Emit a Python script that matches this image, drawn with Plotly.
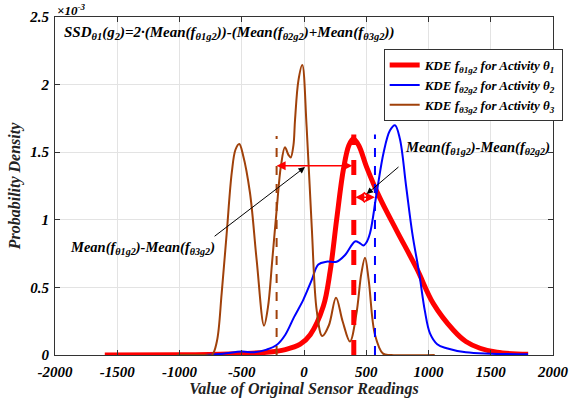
import plotly.graph_objects as go

# Values in units of 1e-3 (axis shows x10^-3)
red_x = [-1600, -1000, -600, -300, -150, -30, 50, 155, 210, 262, 316, 360, 396, 440, 503, 610, 744, 905, 1039, 1199, 1300, 1414, 1550, 1800]
red_y = [0.0, 0.002, 0.008, 0.02, 0.04, 0.08, 0.15, 0.36, 0.62, 1.0, 1.37, 1.55, 1.60, 1.55, 1.39, 1.16, 0.92, 0.64, 0.38, 0.185, 0.10, 0.05, 0.02, 0.005]

blue_x = [-800, -650, -500, -400, -300, -220, -150, -80, -5, 60, 115, 180, 262, 330, 410, 445, 477, 500, 530, 584, 640, 690, 731, 770, 820, 870, 926, 970, 1012, 1070, 1146, 1300, 1500, 1800]
blue_y = [0.0, 0.01, 0.025, 0.02, 0.04, 0.074, 0.15, 0.28, 0.41, 0.55, 0.67, 0.69, 0.69, 0.74, 0.84, 0.83, 0.81, 0.83, 0.9, 1.2, 1.5, 1.66, 1.70, 1.6, 1.25, 0.9, 0.6, 0.33, 0.16, 0.08, 0.05, 0.02, 0.01, 0.005]

brown_x = [-1020, -800, -740, -700, -661, -621, -580, -550, -520, -490, -434, -380, -321, -290, -255, -220, -185, -153, -125, -107, -85, -72, -45, -14, 21, 62, 102, 147, 200, 257, 310, 369, 420, 460, 490, 520, 570, 635, 700, 1050]
brown_y = [0.0, 0.0, 0.0, 0.1, 0.46, 0.9, 1.35, 1.52, 1.56, 1.48, 1.2, 0.7, 0.217, 0.35, 0.7, 1.07, 1.4, 1.536, 1.48, 1.46, 1.55, 1.74, 2.03, 2.145, 1.69, 0.95, 0.33, 0.14, 0.22, 0.424, 0.25, 0.1, 0.3, 0.6, 0.72, 0.55, 0.15, 0.01, 0.0, 0.0]

mean_x = [400, 570, -220]     # theta1, theta2, theta3 means
mean_top = [1.63, 1.63, 1.62]
arrow13_y = 1.40
arrow12_y = 1.166

x_ticks = [-2000, -1500, -1000, -500, 0, 500, 1000, 1500, 2000]
y_ticks = [0, 0.5, 1, 1.5, 2, 2.5]

RED = "#FF0000"
BLUE = "#0000FF"
BROWN = "#A0410A"
FONT = "Liberation Serif"

def bi(s):
    return "<b><i>" + s + "</i></b>"

fig = go.Figure()
fig.add_trace(go.Scatter(x=red_x, y=red_y, mode="lines", line=dict(color=RED, width=5, shape="spline"),
                         name=bi("KDE f<sub>θ1g2</sub> for Activity θ<sub>1</sub>")))
fig.add_trace(go.Scatter(x=blue_x, y=blue_y, mode="lines", line=dict(color=BLUE, width=2, shape="spline"),
                         name=bi("KDE f<sub>θ2g2</sub> for Activity θ<sub>2</sub>")))
fig.add_trace(go.Scatter(x=brown_x, y=brown_y, mode="lines", line=dict(color=BROWN, width=2, shape="spline"),
                         name=bi("KDE f<sub>θ3g2</sub> for Activity θ<sub>3</sub>")))

# mean dashed lines
for mx, mt, col, w, dash in [(mean_x[0], mean_top[0], RED, 5, "dash"),
                             (mean_x[1], mean_top[1], BLUE, 2, "dash"),
                             (mean_x[2], mean_top[2], BROWN, 2, "dash")]:
    fig.add_trace(go.Scatter(x=[mx, mx], y=[0, mt], mode="lines", showlegend=False,
                             line=dict(color=col, width=w, dash=dash)))

# red difference arrows
fig.add_annotation(x=mean_x[2], y=arrow13_y, ax=mean_x[0], ay=arrow13_y, axref="x", ayref="y",
                   xref="x", yref="y", text="", showarrow=True, arrowhead=2, arrowside="end+start",
                   arrowsize=1.2, arrowwidth=1.5, arrowcolor=RED, standoff=0, startstandoff=0)
fig.add_annotation(x=mean_x[1], y=arrow12_y, ax=mean_x[0], ay=arrow12_y, axref="x", ayref="y",
                   xref="x", yref="y", text="", showarrow=True, arrowhead=2, arrowside="end+start",
                   arrowsize=1.2, arrowwidth=1.5, arrowcolor=RED, standoff=0, startstandoff=0)
fig.add_trace(go.Scatter(x=[(mean_x[0] + mean_x[1]) / 2], y=[arrow12_y], mode="markers", showlegend=False,
                         marker=dict(symbol="diamond-open", size=7, color=RED, line=dict(width=1.5))))

# black pointer arrows
fig.add_annotation(x=8, y=1.39, ax=-730, ay=0.87, axref="x", ayref="y", xref="x", yref="y",
                   text="", showarrow=True, arrowhead=2, arrowsize=1.3, arrowwidth=1, arrowcolor="black")
fig.add_annotation(x=503, y=1.19, ax=771, ay=1.40, axref="x", ayref="y", xref="x", yref="y",
                   text="", showarrow=True, arrowhead=2, arrowsize=1.3, arrowwidth=1, arrowcolor="black")

fig.add_annotation(x=-1300, y=0.79, xref="x", yref="y", showarrow=False,
                   text=bi("Mean(f<sub>θ1g2</sub>)-Mean(f<sub>θ3g2</sub>)"),
                   font=dict(family=FONT, size=14.5, color="black"))
fig.add_annotation(x=1390, y=1.53, xref="x", yref="y", showarrow=False,
                   text=bi("Mean(f<sub>θ1g2</sub>)-Mean(f<sub>θ2g2</sub>)"),
                   font=dict(family=FONT, size=14.5, color="black"))

fig.add_annotation(x=0.014, y=0.985, xref="paper", yref="paper", xanchor="left", yanchor="top", showarrow=False,
                   text=bi("SSD<sub>θ1</sub>(g<sub>2</sub>)=2·(Mean(f<sub>θ1g2</sub>))-(Mean(f<sub>θ2g2</sub>)+Mean(f<sub>θ3g2</sub>))"),
                   font=dict(family=FONT, size=15, color="black"))
fig.add_annotation(x=0.0, y=1.0, xref="paper", yref="paper", xanchor="left", yanchor="bottom", showarrow=False,
                   text=bi("×10<sup>-3</sup>"), font=dict(family=FONT, size=13, color="black"), yshift=-3)

axis_common = dict(showgrid=True, gridcolor="#E3E3E3", gridwidth=1, zeroline=False,
                   showline=True, linecolor="#333333", linewidth=1.2, mirror="ticks",
                   ticks="inside", ticklen=5, tickcolor="#333333", automargin=False,
                   tickfont=dict(family=FONT, size=15, color="black"))

fig.update_layout(
    width=579, height=402,
    margin=dict(l=55, r=26, t=17, b=47),
    plot_bgcolor="white", paper_bgcolor="white",
    xaxis=dict(range=[-2000, 2000], tickvals=x_ticks, ticktext=[bi(str(v)) for v in x_ticks],
               ticklabelstandoff=3,
               title=dict(text=bi("Value of Original Sensor Readings"), font=dict(family=FONT, size=16, color="#222"), standoff=2),
               **axis_common),
    yaxis=dict(range=[0, 2.5], tickvals=y_ticks, ticktext=[bi(f"{v:g}") for v in y_ticks],
               ticklabelstandoff=2,
               title=dict(text=bi("Probability Density"), font=dict(family=FONT, size=16, color="#222"), standoff=4),
               **axis_common),
    legend=dict(x=0.66, y=0.905, xanchor="left", yanchor="top", bgcolor="white",
                bordercolor="#333333", borderwidth=1, font=dict(family=FONT, size=13, color="black"),
                tracegroupgap=0, itemwidth=30),
    showlegend=True,
)

fig.write_html("out.html")
